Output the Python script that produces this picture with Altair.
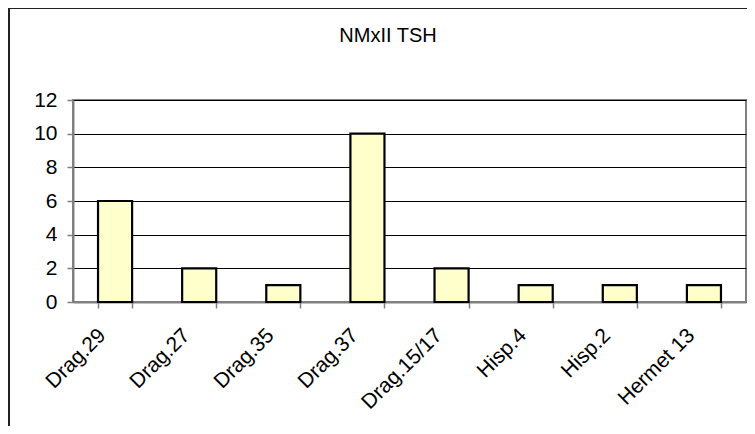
import altair as alt
import pandas as pd

categories = ["Drag.29", "Drag.27", "Drag.35", "Drag.37", "Drag.15/17", "Hisp.4", "Hisp.2", "Hermet 13"]
values = [6, 2, 1, 10, 2, 1, 1, 1]
y_ticks = [0, 2, 4, 6, 8, 10, 12]
title_text = "NMxII TSH"

df = pd.DataFrame({"cat": categories, "val": values})

FONT = "Liberation Sans"
FS = 21

bars = alt.Chart(df).mark_bar(
    fill="#FFFFCC", stroke="#000000", strokeWidth=2.2
).encode(
    x=alt.X("cat:N", sort=categories, title=None,
            scale=alt.Scale(paddingInner=0.595, paddingOuter=0.2975),
            axis=alt.Axis(labelAngle=315, labelAlign="right", labelBaseline="middle",
                          labelPadding=24, labelOffset=-13,
                          tickBand="extent", ticks=True, tickSize=6,
                          tickColor="#808080", tickWidth=1.5,
                          domainColor="#808080", domainWidth=2,
                          labelFont=FONT, labelFontSize=FS, labelColor="#000000",
                          grid=False)),
    y=alt.Y("val:Q", title=None,
            scale=alt.Scale(domain=[0, 12], nice=False),
            axis=alt.Axis(values=y_ticks, tickSize=6, tickColor="#808080", tickWidth=1.5,
                          domainColor="#808080", domainWidth=2,
                          labelFont=FONT, labelFontSize=FS, labelColor="#000000",
                          labelPadding=10,
                          grid=True, gridColor="#000000", gridWidth=1, gridOpacity=1)),
)

frame_df = pd.DataFrame({"k": [0]})
frame_top = alt.Chart(frame_df).mark_rule(color="#222222", strokeWidth=2).encode(
    x=alt.value(-64), x2=alt.value(700), y=alt.value(-92)
)
frame_left = alt.Chart(frame_df).mark_rule(color="#222222", strokeWidth=2).encode(
    x=alt.value(-64), y=alt.value(-92), y2=alt.value(340)
)
title_df = pd.DataFrame({"t": [title_text]})
title = alt.Chart(title_df).mark_text(
    font=FONT, fontSize=20, color="#000000", align="center", baseline="alphabetic"
).encode(text="t:N", x=alt.value(315), y=alt.value(-58))

chart = alt.layer(bars, frame_top, frame_left, title).properties(
    width=673, height=202,
    padding={"left": 65, "top": 92, "right": 1, "bottom": 124},
    autosize=alt.AutoSizeParams(type="none"),
).configure_view(stroke="#808080", strokeWidth=2)

chart.save("out.html", embed_options={"renderer": "svg", "actions": False})
